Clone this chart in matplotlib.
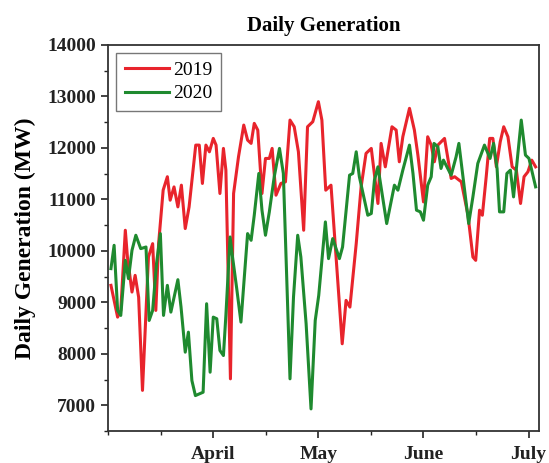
import matplotlib
matplotlib.use("Agg")
import matplotlib.pyplot as plt
from matplotlib.ticker import MultipleLocator, FixedLocator

# Day index (0 = start of March), month ticks
month_pos = [30, 60, 90, 120]
month_labels = ["April", "May", "June", "July"]

days_2019 = [0.8, 2.7, 3.6, 4.9, 5.5, 6.8, 7.7, 8.7, 9.8, 11.5, 12.7, 13.6, 14.4, 15.7,
             16.9, 17.7, 18.8, 19.9, 20.9, 22.0, 23.1, 25.0, 26.0, 26.9, 27.9, 28.9, 30.0,
             30.8, 31.9, 32.9, 33.6, 34.9, 35.8, 37.2, 38.7, 39.8, 40.8, 41.7, 42.7, 43.9,
             44.9, 46.0, 46.8, 47.9, 49.3, 50.6, 51.9, 53.1, 54.3, 55.8, 56.9, 58.4, 60.0,
             61.0, 62.1, 63.6, 66.8, 67.9, 69.0, 70.8, 72.2, 73.6, 75.1, 77.0, 77.9, 79.1,
             81.0, 82.2, 83.1, 84.1, 86.0, 87.4, 88.4, 90.0, 91.2, 92.2, 93.1, 94.1, 96.0,
             97.2, 97.9, 98.9, 100.8, 102.7, 104.1, 104.9, 106.0, 106.8, 107.9, 108.9,
             109.8, 110.8, 111.9, 112.9, 114.1, 115.3, 116.5, 117.7, 118.7, 119.8, 120.9,
             122.0]
gen_2019 = [9330, 8713, 8843, 10400, 9880, 9200, 9524, 9100, 7290, 9880, 10140, 8843,
            10140, 11180, 11440, 10984, 11242, 10854, 11276, 10433, 10854, 12054, 12054,
            11309, 12054, 11924, 12184, 12054, 11114, 11990, 11568, 7514, 11114, 11826,
            12443, 12151, 12087, 12476, 12346, 11114, 11795, 11795, 11990, 11081, 11309,
            11340, 12540, 12410, 11924, 10400, 12410, 12508, 12897, 12540, 11178, 11276,
            8195, 9038, 8908, 10140, 11243, 11893, 11990, 10920, 12087, 11632, 12410,
            12346, 11730, 12216, 12768, 12346, 11860, 10950, 12216, 12054, 11730, 12054,
            12184, 11698, 11406, 11440, 11340, 10692, 9880, 9816, 10790, 10692, 11440,
            12184, 12184, 11632, 12118, 12410, 12216, 11632, 11568, 10920, 11440, 11535,
            11762, 11632]

days_2020 = [0.8, 1.7, 2.7, 3.6, 4.9, 5.8, 6.8, 7.9, 9.3, 10.8, 11.7, 12.7, 13.8, 14.9,
             15.8, 16.9, 17.9, 19.9, 20.8, 22.0, 22.9, 23.9, 24.9, 27.1, 28.1, 29.1, 30.0,
             31.0, 31.9, 32.9, 33.6, 34.8, 35.5, 36.7, 37.9, 38.9, 39.8, 40.8, 41.7, 43.0,
             43.9, 44.9, 46.0, 47.4, 48.9, 50.0, 51.9, 52.9, 54.1, 55.0, 56.5, 57.9, 59.1,
             60.1, 62.0, 62.9, 64.1, 66.0, 66.9, 68.9, 69.8, 70.8, 71.7, 74.1, 75.1, 76.0,
             77.0, 79.5, 81.7, 82.7, 84.1, 86.0, 87.0, 88.0, 89.1, 90.0, 91.2, 92.2, 93.0,
             94.1, 95.0, 95.7, 97.9, 99.3, 100.1, 102.9, 104.1, 105.5, 107.4, 109.0, 110.0,
             111.0, 111.7, 112.9, 113.8, 114.8, 115.7, 117.9, 119.1, 120.1, 122.0]
gen_2020 = [9655, 10108, 8843, 8746, 9816, 9460, 10010, 10303, 10043, 10075, 8648, 8843,
            9752, 10335, 8746, 9330, 8810, 9440, 8908, 8032, 8421, 7481, 7189, 7254, 8973,
            7643, 8713, 8681, 8065, 7967, 8746, 10270, 9880, 9265, 8616, 9524, 10335, 10205,
            10692, 11503, 10790, 10303, 10757, 11438, 11990, 11503, 7514, 9102, 10303, 9880,
            8584, 6930, 8648, 9135, 10562, 9849, 10238, 9849, 10075, 11470, 11503, 11924,
            11438, 10692, 10725, 11373, 11632, 10530, 11276, 11178, 11568, 12054, 11503,
            10790, 10757, 10595, 11276, 11438, 12087, 12022, 11600, 11762, 11470, 11826,
            12087, 10530, 11048, 11698, 12054, 11795, 12087, 11600, 10757, 10757, 11503,
            11568, 11048, 12540, 11860, 11795, 11243]

plt.rcParams['font.family'] = ['Liberation Serif', 'DejaVu Serif']
plt.rcParams['font.weight'] = 'bold'

fig = plt.figure(figsize=(5.49, 4.63), dpi=100)
ax = fig.add_axes([0.197, 0.069, 0.785, 0.834])

ax.plot(days_2019, gen_2019, color='#e8242c', lw=2.2, label='2019')
ax.plot(days_2020, gen_2020, color='#1f8a2f', lw=2.2, label='2020')

ax.set_xlim(0, 123)
ax.set_ylim(6500, 14000)

ax.xaxis.set_major_locator(FixedLocator(month_pos))
ax.set_xticklabels(month_labels, fontsize=14, fontweight='bold')
ax.xaxis.set_minor_locator(FixedLocator([0, 15, 45, 75, 105]))
ax.yaxis.set_major_locator(MultipleLocator(1000))
ax.yaxis.set_minor_locator(MultipleLocator(500))
ax.tick_params(axis='both', which='major', direction='out', length=5, width=1.2,
               labelsize=14, colors='#222222')
ax.tick_params(axis='x', which='major', pad=6)
ax.tick_params(axis='both', which='minor', direction='out', length=3, width=1.0,
               colors='#222222')
for lab in ax.get_yticklabels():
    lab.set_fontweight('bold')

for s in ax.spines.values():
    s.set_linewidth(1.3)
    s.set_color('#333333')

ax.set_ylabel('Daily Generation (MW)', fontsize=17, fontweight='bold')
ax.yaxis.set_label_coords(-0.168, 0.5)
ax.set_title('Daily Generation', fontsize=15, fontweight='bold', pad=10)

leg = ax.legend(loc='upper left', fontsize=14, frameon=True, fancybox=False,
                edgecolor='#555555', handlelength=2.3, borderaxespad=0.4,
                labelspacing=0.3, borderpad=0.45, handletextpad=0.2)
leg.get_frame().set_linewidth(1.0)
for t in leg.get_texts():
    t.set_fontweight('normal')

fig.savefig('out.png', dpi=100)
